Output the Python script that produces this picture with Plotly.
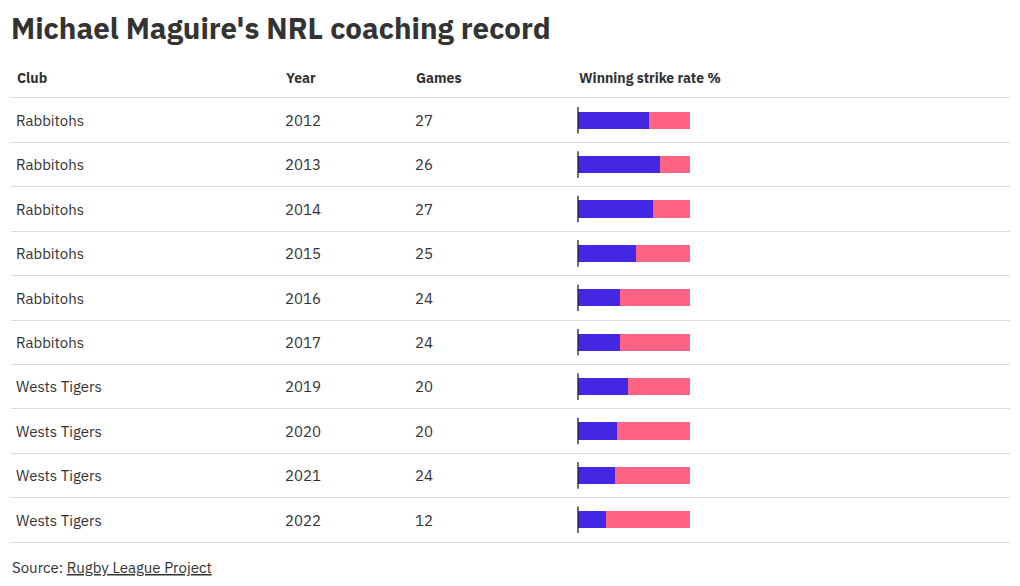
import plotly.graph_objects as go

# table data
clubs = ["Rabbitohs", "Rabbitohs", "Rabbitohs", "Rabbitohs", "Rabbitohs",
         "Rabbitohs", "Wests Tigers", "Wests Tigers", "Wests Tigers", "Wests Tigers"]
years = ["2012", "2013", "2014", "2015", "2016", "2017", "2019", "2020", "2021", "2022"]
games = [27, 26, 27, 25, 24, 24, 20, 20, 24, 12]
strike_rate = [63.0, 73.1, 66.7, 52.0, 37.5, 37.5, 45.0, 35.0, 33.3, 25.0]
headers = ["Club", "Year", "Games", "Winning strike rate %"]

FONT = "IBM Plex Sans, Open Sans, sans-serif"
TEXT = "#333333"
BLUE = "#4327E5"
PINK = "#FF6384"
GRID = "#dcdcdc"

# the page puts the figure 8px in from the top-left corner
OFF = 8
W, H = 1020 - 2 * OFF, 586 - 2 * OFF
# pixel positions measured on the screen, turned into figure pixels
LEFT, RIGHT = 11 - OFF, 1010 - OFF      # extent of the table lines
TOP, BOTTOM = 98 - OFF, 542 - OFF       # header line / last row line
col_x = [c - OFF for c in (16, 285, 415, 578)]
bar_x0, bar_x1 = 578 - OFF, 690 - OFF
TEXT_DROP = 2                            # row text sits a little below the row centre

rows = list(range(len(years)))
losses = [100 - v for v in strike_rate]
plot_w = RIGHT - LEFT
row_h = (BOTTOM - TOP) / len(rows)

fig = go.Figure()

# empty trace so the full-width x/y subplot exists and carries the row lines
fig.add_trace(go.Scatter(x=[], y=[], hoverinfo="skip", showlegend=False))

# cell text goes on its own y axis, nudged down a couple of pixels
for i, col in enumerate([clubs, years, [str(g) for g in games]]):
    fig.add_trace(go.Scatter(
        x=[col_x[i]] * len(rows), y=rows, yaxis="y2", mode="text", text=col,
        textposition="middle right", textfont=dict(family=FONT, size=15, color=TEXT),
        hoverinfo="skip", showlegend=False, cliponaxis=False,
    ))

fig.add_trace(go.Bar(
    y=rows, x=strike_rate, orientation="h", xaxis="x2", marker_color=BLUE,
    marker_line_width=0, width=0.39, name="Won", showlegend=False,
))
fig.add_trace(go.Bar(
    y=rows, x=losses, orientation="h", xaxis="x2", marker_color=PINK,
    marker_line_width=0, width=0.39, name="Lost", showlegend=False,
))
# baseline tick at the start of each bar
fig.add_trace(go.Scatter(
    y=rows, x=[0] * len(rows), xaxis="x2", mode="markers",
    marker=dict(symbol="line-ns", size=19, line=dict(color="#222222", width=1.3)),
    hoverinfo="skip", showlegend=False, cliponaxis=False,
))

shift = TEXT_DROP / row_h
fig.update_layout(
    width=W, height=H,
    margin=dict(l=LEFT, r=W - RIGHT, t=TOP, b=H - BOTTOM),
    paper_bgcolor="white", plot_bgcolor="white",
    barmode="stack", bargap=0,
    font=dict(family=FONT, color=TEXT),
    xaxis=dict(range=[LEFT, RIGHT], showgrid=False, zeroline=False, showticklabels=False,
               showline=True, mirror=True, linecolor=GRID, linewidth=1, fixedrange=True),
    xaxis2=dict(anchor="y", range=[0, 100],
                domain=[(bar_x0 - LEFT) / plot_w, (bar_x1 - LEFT) / plot_w],
                showgrid=False, zeroline=False, showticklabels=False, showline=False),
    yaxis=dict(range=[len(rows) - 0.5, -0.5], tickvals=[r + 0.5 for r in rows[:-1]],
               showgrid=True, gridcolor=GRID, gridwidth=1, zeroline=False,
               showticklabels=False, fixedrange=True),
    yaxis2=dict(overlaying="y", range=[len(rows) - 0.5 - shift, -0.5 - shift],
                showgrid=False, zeroline=False, showticklabels=False, visible=False),
)

annotations = [
    dict(text="<b>Michael Maguire's NRL coaching record</b>", x=LEFT - 2, y=28 - OFF,
         font=dict(size=29.5, family=FONT, color=TEXT)),
    dict(text="Source: <u>Rugby League Project</u>", x=LEFT - 1, y=567 - OFF,
         font=dict(size=15, family=FONT, color=TEXT)),
]
for i, h in enumerate(headers):
    annotations.append(dict(text=f"<b>{h}</b>", x=col_x[i] - 1, y=78 - OFF,
                            font=dict(size=14, family=FONT, color=TEXT)))
for a in annotations:
    a.update(xref="paper", yref="paper", xanchor="left", yanchor="middle", showarrow=False)
    a["x"] = (a["x"] - LEFT) / plot_w
    a["y"] = (BOTTOM - a["y"]) / (BOTTOM - TOP)
fig.update_layout(annotations=annotations)

fig.write_html("out.html")
